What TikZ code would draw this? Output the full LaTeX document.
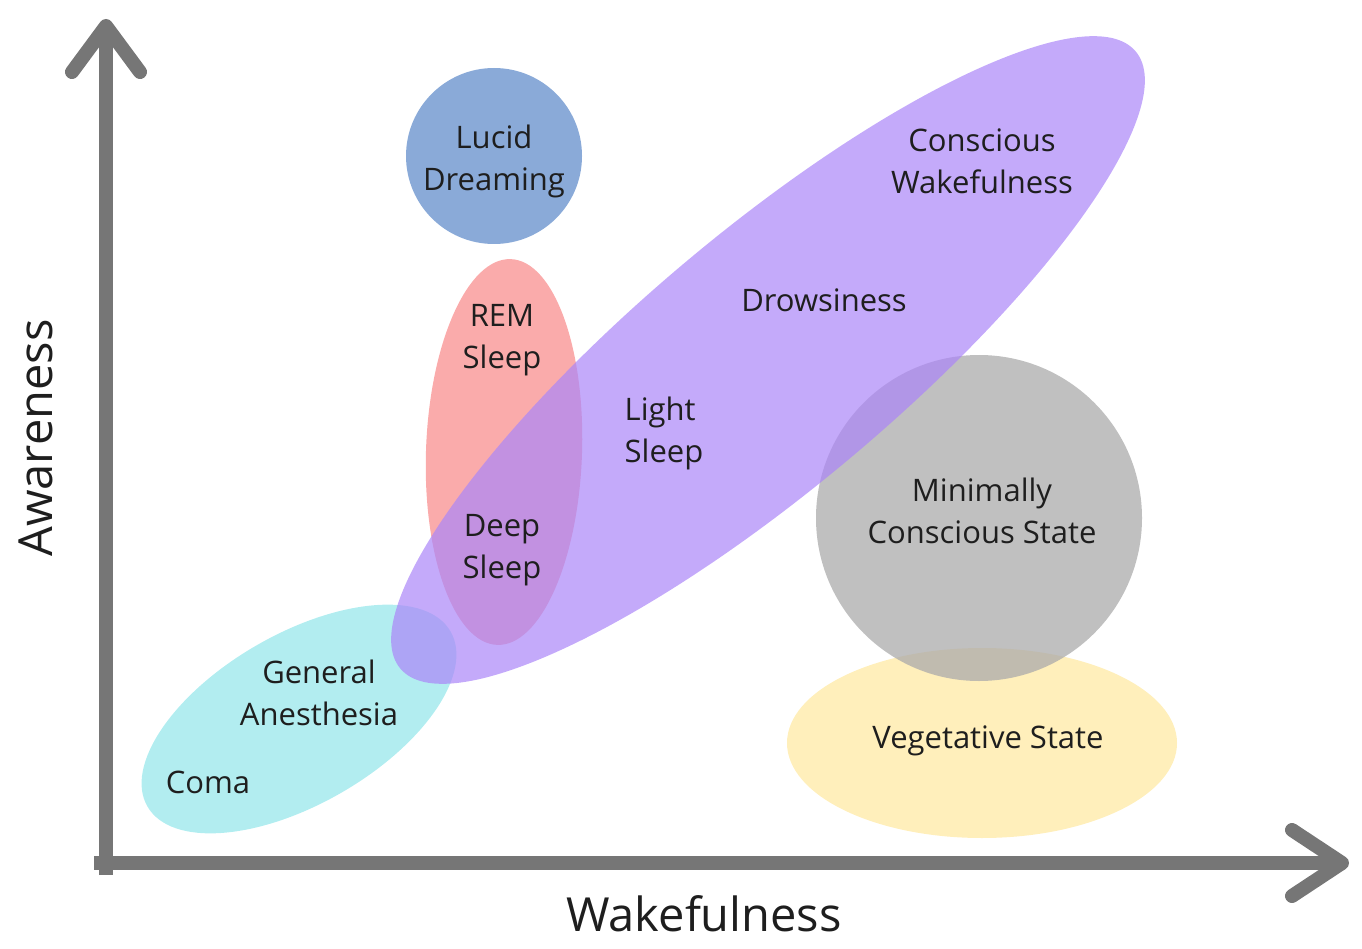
\documentclass[tikz,border=0pt]{standalone}
\usepackage{fontspec}
\setmainfont{Open Sans}
\usepackage{xcolor}
\usepackage{tikz}
\usetikzlibrary{positioning}

\definecolor{axisgrey}{RGB}{118,118,118}
\definecolor{wakepurple}{RGB}{171,134,248}
\definecolor{dreamblue}{RGB}{138,170,216}
\definecolor{sleeppink}{RGB}{248,136,136}
\definecolor{mcsgrey}{RGB}{171,171,171}
\definecolor{vegyellow}{RGB}{255,230,150}
\definecolor{comacyan}{RGB}{145,230,234}
\definecolor{labeltext}{RGB}{30,30,30}

\begin{document}
\begin{tikzpicture}[
  x=1pt, y=-1pt,
  zone/.style={fill opacity=0.7},
  axis/.style={draw=axisgrey, line width=14pt},
  chevron/.style={axis, line cap=round, line join=round},
  lbl/.style={text=labeltext, align=center, inner sep=0pt,
              font=\fontsize{31}{42}\selectfont},
  axislbl/.style={text=labeltext, inner sep=0pt,
                  font=\fontsize{47}{56}\selectfont}
]
\useasboundingbox (0,0) rectangle (1362,949);

% state regions
\fill[zone, comacyan] (299,719) ellipse[x radius=175, y radius=85, rotate=30];
\fill[zone, sleeppink] (504,452) ellipse[x radius=78, y radius=193, rotate=-2];
\fill[zone, fill=vegyellow, fill opacity=0.65] (982,743) ellipse[x radius=195, y radius=95];
\fill[zone, mcsgrey, fill opacity=0.75] (979,518) circle[radius=163];
\fill[zone, wakepurple] (768,360) ellipse[x radius=480, y radius=128, rotate=40];
\fill[dreamblue] (494,156) circle[radius=88];

% axes
\coordinate (origin) at (106,863);
\coordinate (ytip) at (106,26);
\coordinate (xtip) at (1342,863);
\draw[axis] (106,875) -- (ytip);
\draw[axis] (94,863) -- (xtip);
\draw[chevron] (ytip) ++(-34,46) -- (ytip) -- ++(34,46);
\draw[chevron] (xtip) ++(-50,-33) -- (xtip) -- ++(-50,33);

\node[axislbl] (wake) at (704,914) {Wakefulness};
\node[axislbl, rotate=90] (aware) at (36,438) {Awareness};

% labels
\node[lbl] (lucid) at (494,161) {Lucid\\Dreaming};
\node[lbl] (rem) at (502,340) {REM\\Sleep};
\node[lbl] (deep) at (502,550) {Deep\\Sleep};
\node[lbl, align=left] (light) at (664,433) {Light\\Sleep};
\node[lbl] (drowsy) at (824,300) {Drowsiness};
\node[lbl] (conscious) at (982,161) {Conscious\\Wakefulness};
\node[lbl] (mcs) at (982,511) {Minimally\\Conscious State};
\node[lbl] (veg) at (988,741) {Vegetative State};
\node[lbl] (anesth) at (319,693) {General\\Anesthesia};
\node[lbl] (coma) at (208,782) {Coma};
\end{tikzpicture}
\end{document}
